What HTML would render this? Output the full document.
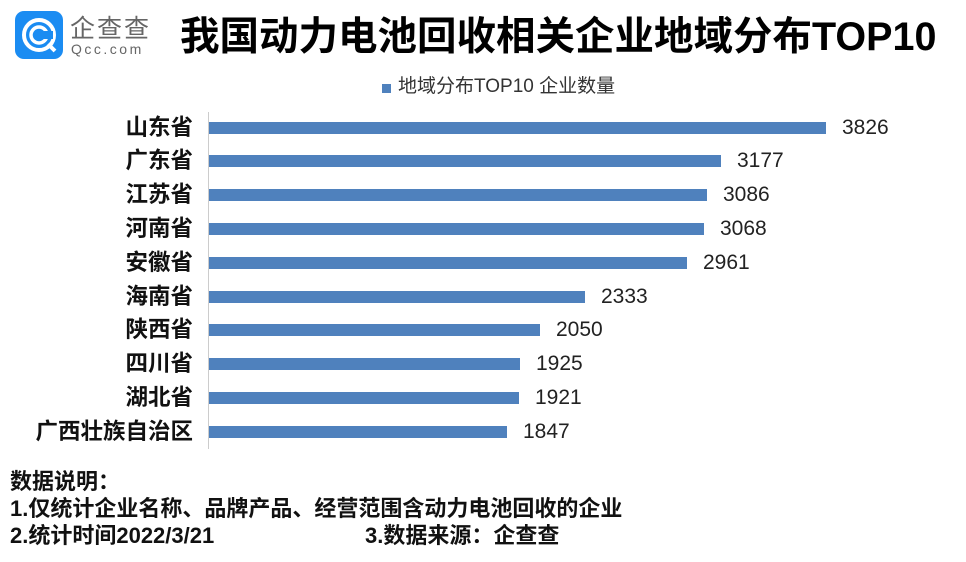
<!DOCTYPE html>
<html><head><meta charset="utf-8"><style>
body{margin:0;width:966px;height:562px;background:#fff;position:relative;overflow:hidden;font-family:"Liberation Sans","Noto Sans CJK SC",sans-serif}
.a{position:absolute;white-space:nowrap}
.lab{position:absolute;right:773px;font-weight:bold;font-size:22.5px;color:#111;line-height:24px;white-space:nowrap}
.bar{position:absolute;left:209px;height:12px;background:#4f81bd}
.val{position:absolute;font-size:21px;color:#222;line-height:24px}
.f{position:absolute;left:10px;font-weight:bold;font-size:22px;color:#111;line-height:24px;white-space:nowrap}
</style></head><body>
<svg class="a" style="left:15px;top:11px" width="48" height="48" viewBox="0 0 48 48">
<rect width="48" height="48" rx="9" fill="#1b8cf2"/>
<circle cx="24" cy="24" r="15" fill="none" stroke="#fff" stroke-width="4"/>
<circle cx="24" cy="24" r="8" fill="none" stroke="#fff" stroke-width="3.5"/>
<path d="M33 33 L40 40" stroke="#fff" stroke-width="4"/>
<rect x="24" y="20" width="14" height="8" fill="#1b8cf2"/>
</svg>
<div class="a" style="left:70px;top:9px;font-size:25px;color:#666;letter-spacing:2px">企查查</div>
<div class="a" style="left:71px;top:41px;font-size:14px;color:#666;letter-spacing:2.5px">Qcc.com</div>
<div class="a" style="left:180px;top:15px;font-size:39.5px;font-weight:bold;color:#000;line-height:44px">我国动力电池回收相关企业地域分布TOP10</div>
<div class="a" style="left:382px;top:84px;width:9px;height:9px;background:#4f81bd"></div>
<div class="a" style="left:398px;top:76px;font-size:19px;color:#333;line-height:22px">地域分布TOP10 企业数量</div>
<div class="a" style="left:208px;top:112px;width:1px;height:337px;background:#ccc"></div>
<div class="lab" style="top:116px">山东省</div><div class="bar" style="top:122px;width:617px"></div><div class="val" style="top:116px;left:842px">3826</div>
<div class="lab" style="top:149px">广东省</div><div class="bar" style="top:155px;width:512px"></div><div class="val" style="top:149px;left:737px">3177</div>
<div class="lab" style="top:183px">江苏省</div><div class="bar" style="top:189px;width:498px"></div><div class="val" style="top:183px;left:723px">3086</div>
<div class="lab" style="top:217px">河南省</div><div class="bar" style="top:223px;width:495px"></div><div class="val" style="top:217px;left:720px">3068</div>
<div class="lab" style="top:251px">安徽省</div><div class="bar" style="top:257px;width:478px"></div><div class="val" style="top:251px;left:703px">2961</div>
<div class="lab" style="top:285px">海南省</div><div class="bar" style="top:291px;width:376px"></div><div class="val" style="top:285px;left:601px">2333</div>
<div class="lab" style="top:318px">陕西省</div><div class="bar" style="top:324px;width:331px"></div><div class="val" style="top:318px;left:556px">2050</div>
<div class="lab" style="top:352px">四川省</div><div class="bar" style="top:358px;width:311px"></div><div class="val" style="top:352px;left:536px">1925</div>
<div class="lab" style="top:386px">湖北省</div><div class="bar" style="top:392px;width:310px"></div><div class="val" style="top:386px;left:535px">1921</div>
<div class="lab" style="top:420px">广西壮族自治区</div><div class="bar" style="top:426px;width:298px"></div><div class="val" style="top:420px;left:523px">1847</div>
<div class="f" style="top:470px">数据说明：</div>
<div class="f" style="top:497px">1.仅统计企业名称、品牌产品、经营范围含动力电池回收的企业</div>
<div class="f" style="top:524px">2.统计时间2022/3/21</div>
<div class="f" style="top:524px;left:365px">3.数据来源：企查查</div>
</body></html>
